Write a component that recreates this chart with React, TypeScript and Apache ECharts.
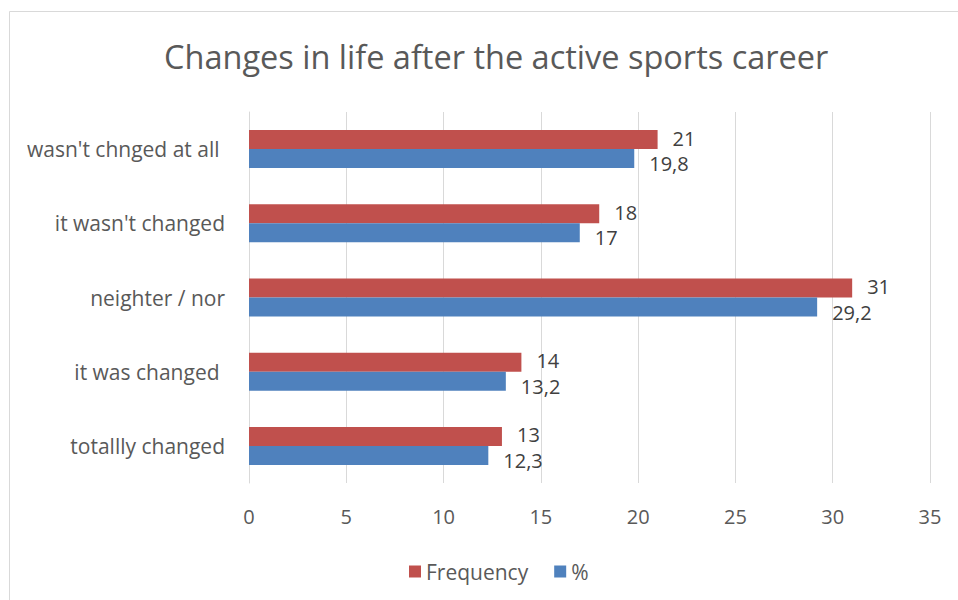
import React, { useEffect, useRef } from "react";
import * as echarts from "echarts";

const categories = [
  "totallly changed",
  "it was changed ",
  "neighter / nor",
  "it wasn't changed",
  "wasn't chnged at all ",
];
const frequency = [13, 14, 31, 18, 21];
const percent = [12.3, 13.2, 29.2, 17, 19.8];
const seriesNames = ["Frequency", "%"];
const FONT = "'Open Sans', 'Noto Sans', sans-serif";

export default function App() {
  const ref = useRef<HTMLDivElement>(null);
  useEffect(() => {
    const chart = echarts.init(ref.current!, null, { renderer: "svg" });
    const fmt = (p: any) => String(p.value).replace(".", ",");
    const labelBase = {
      show: true,
      position: "right",
      distance: 15,
      formatter: fmt,
      fontFamily: FONT,
      fontSize: 20,
      color: "#404040",
      lineHeight: 20,
    };
    chart.setOption({
      animation: false,
      backgroundColor: "#ffffff",
      title: {
        text: "Changes in life after the active sports career",
        left: 159,
        top: 35,
        textStyle: { fontFamily: FONT, fontSize: 32.5, fontWeight: "normal", color: "#595959" },
      },
      graphic: [
        {
          type: "rect",
          shape: { x: 9.5, y: 11.5, width: 960, height: 600 },
          style: { fill: "none", stroke: "#d9d9d9", lineWidth: 1 },
          silent: true,
        },
      ],
      legend: {
        data: seriesNames,
        top: 556,
        left: 404,
        itemWidth: 12,
        itemHeight: 12,
        itemGap: 26,
        icon: "rect",
        textStyle: { fontFamily: FONT, fontSize: 21, color: "#595959" },
      },
      grid: { left: 249, right: 28, top: 112, bottom: 117 },
      xAxis: {
        type: "value",
        min: 0,
        max: 35,
        interval: 5,
        axisLine: { show: false },
        axisTick: { show: false },
        splitLine: { lineStyle: { color: "#d9d9d9", width: 1 } },
        axisLabel: { margin: 23, fontFamily: FONT, fontSize: 20, color: "#595959" },
      },
      yAxis: {
        type: "category",
        data: categories,
        axisLine: { show: true, lineStyle: { color: "#d9d9d9" } },
        axisTick: { show: false },
        axisLabel: { margin: 24, fontFamily: FONT, fontSize: 21, color: "#595959" },
      },
      series: [
        {
          name: seriesNames[0],
          type: "bar",
          data: frequency,
          barWidth: 19,
          barGap: "0%",
          itemStyle: { color: "#C0504D" },
          label: { ...labelBase, offset: [0, -1.5] },
        },
        {
          name: seriesNames[1],
          type: "bar",
          data: percent,
          barWidth: 19,
          barGap: "0%",
          itemStyle: { color: "#4F81BD" },
          label: { ...labelBase, offset: [0, 5] },
        },
      ],
    });
    return () => chart.dispose();
  }, []);
  return (
    <div
      ref={ref}
      style={{ position: "fixed", left: 0, top: 0, width: 958, height: 600 }}
    />
  );
}
